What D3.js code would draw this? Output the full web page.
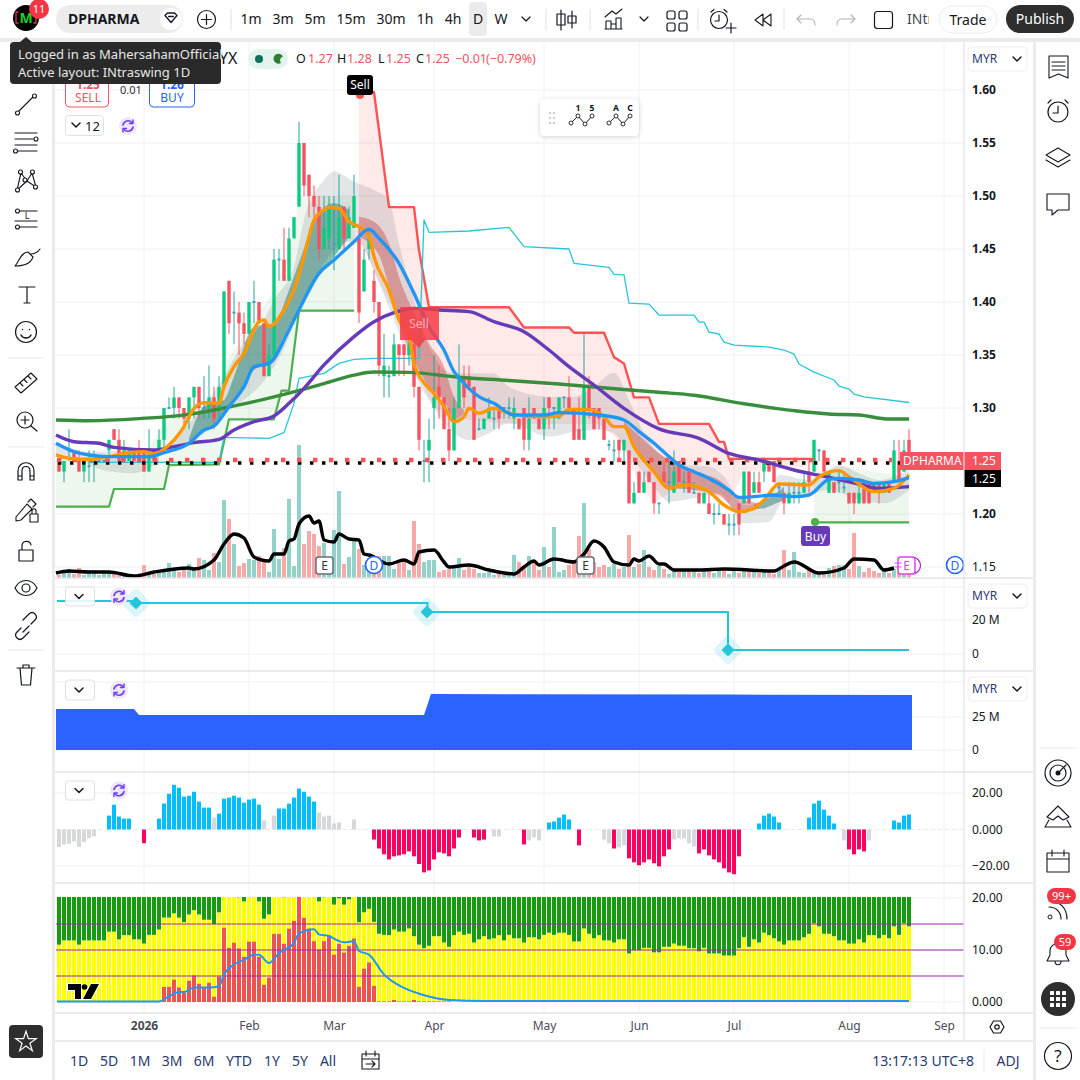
<!DOCTYPE html>
<html><head><meta charset="utf-8">
<script src="https://d3js.org/d3.v7.min.js"></script>
<style>html,body{margin:0;padding:0;background:#fff;overflow:hidden}svg{display:block}text{font-family:"Noto Sans",sans-serif}</style>
</head><body><svg id="c" width="1080" height="1080"></svg>
<script>
// ---------- DATA ----------
const priceTicks=[1.60,1.55,1.50,1.45,1.40,1.35,1.30,1.20,1.15];
const monthLabels=[[17,"2026"],[38,"Feb"],[55,"Mar"],[75,"Apr"],[97,"May"],[116,"Jun"],[135,"Jul"],[158,"Aug"],[177,"Sep"]];
const intervals=[["1m",251],["3m",283],["5m",315],["15m",351],["30m",391],["1h",425],["4h",453],["D",478],["W",501]];
const ranges=[["1D",79],["5D",109],["1M",140],["3M",172],["6M",204],["YTD",239],["1Y",272],["5Y",300],["All",328]];
const opens=[1.25,1.24,1.26,1.26,1.25,1.24,1.245,1.25,1.25,1.25,
1.26,1.28,1.27,1.25,1.25,1.26,1.26,1.26,1.24,1.26,
1.26,1.27,1.30,1.30,1.31,1.30,1.29,1.31,1.32,1.30,
1.30,1.31,1.30,1.32,1.42,1.39,1.39,1.38,1.37,1.40,
1.40,1.38,1.33,1.35,1.44,1.44,1.42,1.46,1.49,1.55,
1.52,1.50,1.49,1.45,1.46,1.455,1.45,1.49,1.46,1.47,
1.46,1.41,1.45,1.42,1.40,1.33,1.33,1.33,1.36,1.36,
1.35,1.36,1.32,1.25,1.26,1.30,1.32,1.31,1.28,1.26,
1.30,1.33,1.33,1.32,1.28,1.28,1.29,1.29,1.30,1.30,
1.30,1.29,1.29,1.30,1.27,1.30,1.29,1.28,1.31,1.30,
1.29,1.31,1.31,1.30,1.28,1.27,1.32,1.30,1.30,1.29,
1.265,1.26,1.27,1.26,1.26,1.21,1.24,1.22,1.24,1.23,
1.21,1.24,1.23,1.22,1.25,1.23,1.24,1.22,1.22,1.21,
1.21,1.20,1.20,1.20,1.19,1.19,1.21,1.21,1.24,1.22,
1.23,1.24,1.25,1.25,1.225,1.22,1.21,1.22,1.22,1.22,
1.24,1.24,1.26,1.26,1.22,1.23,1.23,1.225,1.22,1.22,
1.21,1.23,1.23,1.23,1.23,1.22,1.23,1.23,1.25,1.24,1.27];
const highs=[1.25,1.25,1.28,1.26,1.26,1.25,1.26,1.26,1.25,1.25,
1.27,1.28,1.28,1.27,1.26,1.26,1.27,1.26,1.28,1.26,
1.28,1.30,1.31,1.32,1.31,1.30,1.31,1.32,1.32,1.33,
1.34,1.32,1.33,1.41,1.42,1.41,1.40,1.39,1.40,1.42,
1.40,1.38,1.36,1.45,1.45,1.47,1.47,1.48,1.57,1.55,
1.52,1.51,1.50,1.50,1.50,1.50,1.52,1.49,1.49,1.52,
1.47,1.45,1.47,1.43,1.40,1.37,1.34,1.37,1.36,1.36,
1.37,1.37,1.32,1.27,1.29,1.35,1.34,1.31,1.30,1.31,
1.36,1.34,1.34,1.32,1.29,1.29,1.31,1.30,1.30,1.30,
1.31,1.31,1.29,1.30,1.31,1.30,1.29,1.31,1.31,1.30,
1.31,1.31,1.33,1.30,1.31,1.37,1.33,1.30,1.30,1.29,
1.27,1.27,1.27,1.27,1.26,1.23,1.24,1.24,1.24,1.23,
1.21,1.25,1.25,1.26,1.25,1.24,1.24,1.23,1.22,1.22,
1.22,1.21,1.21,1.20,1.20,1.20,1.21,1.24,1.24,1.24,
1.24,1.25,1.25,1.25,1.23,1.22,1.23,1.23,1.23,1.24,
1.25,1.27,1.26,1.26,1.24,1.23,1.24,1.24,1.22,1.22,
1.23,1.23,1.23,1.23,1.23,1.23,1.23,1.27,1.27,1.27,1.28];
const lows=[1.24,1.23,1.25,1.25,1.24,1.23,1.23,1.23,1.25,1.25,
1.25,1.27,1.25,1.25,1.25,1.25,1.25,1.24,1.24,1.25,
1.26,1.26,1.30,1.29,1.29,1.28,1.28,1.29,1.29,1.29,
1.29,1.28,1.29,1.32,1.37,1.36,1.35,1.36,1.37,1.38,
1.38,1.33,1.33,1.35,1.42,1.42,1.42,1.46,1.49,1.50,
1.48,1.48,1.44,1.45,1.45,1.43,1.45,1.45,1.46,1.47,
1.38,1.41,1.44,1.39,1.33,1.31,1.31,1.33,1.33,1.33,
1.34,1.31,1.26,1.23,1.23,1.28,1.29,1.28,1.25,1.26,
1.30,1.30,1.32,1.27,1.28,1.28,1.29,1.28,1.28,1.29,
1.29,1.28,1.28,1.26,1.26,1.29,1.28,1.27,1.28,1.28,
1.29,1.30,1.30,1.27,1.27,1.27,1.29,1.28,1.28,1.27,
1.26,1.25,1.25,1.25,1.21,1.21,1.22,1.22,1.23,1.20,
1.20,1.23,1.21,1.22,1.23,1.22,1.22,1.22,1.21,1.21,
1.20,1.19,1.20,1.19,1.18,1.18,1.18,1.21,1.21,1.22,
1.22,1.23,1.24,1.23,1.22,1.20,1.21,1.21,1.21,1.22,
1.22,1.24,1.25,1.24,1.22,1.22,1.22,1.22,1.21,1.20,
1.21,1.21,1.21,1.22,1.21,1.22,1.22,1.23,1.23,1.24,1.25];
const closes=[1.24,1.25,1.26,1.25,1.24,1.25,1.245,1.25,1.25,1.25,
1.27,1.27,1.25,1.26,1.26,1.25,1.25,1.24,1.26,1.25,
1.27,1.30,1.30,1.31,1.30,1.29,1.31,1.32,1.30,1.30,
1.31,1.29,1.32,1.41,1.38,1.39,1.38,1.37,1.40,1.40,
1.38,1.33,1.35,1.44,1.44,1.42,1.46,1.48,1.55,1.51,
1.50,1.49,1.45,1.47,1.49,1.455,1.48,1.46,1.48,1.50,
1.39,1.44,1.46,1.40,1.34,1.34,1.33,1.36,1.35,1.35,
1.36,1.32,1.27,1.25,1.27,1.31,1.31,1.28,1.26,1.30,
1.33,1.31,1.32,1.27,1.28,1.29,1.30,1.29,1.29,1.30,
1.30,1.30,1.28,1.27,1.29,1.29,1.28,1.30,1.30,1.30,
1.31,1.31,1.30,1.27,1.27,1.32,1.30,1.28,1.29,1.27,
1.265,1.26,1.26,1.27,1.21,1.22,1.22,1.23,1.23,1.21,
1.21,1.23,1.23,1.24,1.23,1.23,1.22,1.22,1.21,1.22,
1.20,1.20,1.20,1.19,1.19,1.19,1.19,1.24,1.21,1.23,
1.22,1.25,1.24,1.23,1.225,1.21,1.22,1.22,1.22,1.23,
1.23,1.27,1.26,1.24,1.24,1.22,1.23,1.225,1.21,1.21,
1.22,1.21,1.21,1.22,1.22,1.23,1.22,1.26,1.23,1.26,1.25];
const volumes=[3,6,9,4,10,3,8,8,3,6,6,4,3,4,4,3,3,13,4,4,6,8,15,9,6,9,14,9,20,18,8,25,16,78,59,34,12,15,19,18,22,19,6,49,19,30,79,12,133,34,47,44,32,35,19,48,87,14,21,38,29,13,16,10,22,22,22,9,15,16,8,57,34,16,18,18,6,8,9,11,20,8,13,9,5,5,6,3,4,3,4,23,16,11,22,18,8,31,11,51,6,8,13,18,42,75,29,16,11,13,11,14,9,11,43,11,14,28,11,8,12,9,4,8,6,8,9,7,5,6,7,5,8,7,4,8,5,7,6,7,5,6,5,4,8,28,8,26,6,5,8,5,4,6,10,12,13,13,9,45,12,6,10,7,5,8,5,9,5,4,5];
const volumeAvg=[[-0.6,5],[2,7],[6,6],[10,6],[15,2],[19,6],[26,10],[27,9],[31,18],[33,34],[35,44],[37,40],[39,21],[42,17],[43,24],[45,24],[46,37],[47,39],[48,54],[50,62],[51,55],[52,57],[53,38],[55,36],[56,44],[58,39],[60,38],[61,24],[62,23],[66,14],[69,18],[71,14],[72,26],[75,28],[77,16],[78,11],[82,13],[86,8],[91,4],[93,11],[95,17],[96,13],[99,19],[103,16],[105,24],[107,37],[109,31],[111,16],[114,13],[115,19],[116,17],[118,22],[120,14],[121,14],[123,8],[128,8],[133,9],[143,7],[145,12],[147,16],[152,5],[157,10],[159,19],[163,18],[165,8],[167,10]];
const longAvg=[[-0.6,1.2887],[6,1.288],[16,1.290],[26,1.294],[32,1.299],[39,1.306],[46,1.314],[53,1.323],[59,1.331],[63,1.334],[70,1.3336],[80,1.329],[90,1.326],[100,1.3226],[110,1.3186],[120,1.3148],[127,1.312],[137,1.304],[147,1.2975],[154,1.2943],[160,1.2934],[166,1.2896],[170,1.2896]];
const fastAvg=[[-0.6,1.2557],[2,1.2525],[6,1.2516],[10,1.2541],[13,1.2572],[17,1.2588],[19,1.2566],[22,1.2651],[25,1.2824],[27,1.2997],[29,1.305],[32,1.3044],[33,1.3201],[35,1.339],[37,1.3516],[40,1.3814],[41,1.383],[42,1.3767],[45,1.3925],[47,1.4113],[49,1.4428],[51,1.4774],[53,1.4868],[54,1.4893],[56,1.4884],[58,1.4758],[60,1.4711],[62,1.4623],[63,1.4428],[66,1.4113],[68,1.383],[70,1.3689],[71,1.3421],[74,1.3186],[75,1.3138],[77,1.3013],[79,1.2871],[81,1.2918],[82,1.2997],[84,1.295],[87,1.2997],[90,1.295],[96,1.2918],[100,1.2925],[102,1.2987],[106,1.2987],[109,1.2918],[111,1.2824],[113,1.2824],[115,1.2635],[119,1.2399],[122,1.2242],[125,1.2274],[128,1.2252],[130,1.2211],[133,1.2085],[136,1.2022],[139,1.2053],[141,1.2132],[144,1.2283],[150,1.2274],[152,1.2352],[156,1.2409],[158,1.2352],[163,1.2211],[167,1.2242],[170,1.2368]];
const midAvg=[[-0.6,1.2667],[3,1.2588],[6,1.2557],[10,1.2541],[18,1.2541],[21,1.2579],[26,1.2667],[29,1.2792],[31,1.283],[34,1.3013],[37,1.3201],[39,1.339],[42,1.3421],[46,1.3736],[48,1.3925],[52,1.427],[55,1.4396],[59,1.4569],[62,1.4686],[64,1.4601],[68,1.4365],[71,1.4082],[74,1.3767],[77,1.3547],[79,1.3343],[81,1.3233],[84,1.3107],[87,1.3044],[91,1.2934],[97,1.2934],[100,1.2956],[108,1.2934],[113,1.2887],[116,1.2777],[119,1.2667],[122,1.2541],[124,1.2462],[127,1.2399],[130,1.2336],[134,1.2226],[136,1.2157],[139,1.2164],[143,1.2179],[147,1.2164],[150,1.2179],[154,1.2327],[156,1.2336],[160,1.2321],[163,1.2289],[167,1.2305],[170,1.2343]];
const slowAvg=[[-0.6,1.2745],[3,1.2682],[8,1.2667],[11,1.2629],[19,1.2604],[23,1.2635],[27,1.2673],[32,1.2704],[35,1.2792],[39,1.2871],[43,1.2925],[46,1.3044],[49,1.3186],[53,1.3406],[59,1.3673],[63,1.3814],[67,1.3899],[71,1.394],[76,1.3925],[82,1.3909],[87,1.3814],[93,1.372],[98,1.3547],[102,1.339],[107,1.3217],[113,1.2997],[120,1.2803],[128,1.2714],[134,1.2572],[140,1.2509],[147,1.2415],[154,1.2346],[160,1.2283],[164,1.2242],[170,1.2258]];
const channelUpper=[[6,1.2487],[32,1.2487],[33,1.2723],[42,1.2714],[45,1.2767],[47,1.3044],[48,1.328],[53,1.3327],[56,1.3421],[59,1.3459],[63,1.3469],[71,1.3469],[72,1.3469],[73,1.4774],[74,1.4657],[82,1.467],[90,1.4704],[93,1.4522],[102,1.45],[103,1.4365],[110,1.4327],[111,1.4261],[113,1.4255],[114,1.399],[118,1.398],[120,1.3877],[127,1.3877],[128,1.3811],[129,1.3811],[130,1.3716],[132,1.3698],[133,1.3622],[135,1.3594],[142,1.3575],[145,1.3547],[147,1.3509],[148,1.3415],[151,1.3339],[155,1.3264],[156,1.3207],[158,1.3179],[159,1.3132],[161,1.3104],[170,1.3052]];
const buyStop=[[-0.6,1.2069],[10,1.2069],[11,1.2236],[21,1.2236],[22,1.2462],[32,1.2469],[34,1.2893],[43,1.2893],[44.5,1.3164],[46,1.3164],[48,1.3918],[59,1.3918]];
const buyStopTop=[[-0.6,1.252],[10,1.252],[17,1.255],[21,1.285],[26,1.30],[32,1.305],[33,1.34],[40,1.39],[43,1.41],[47,1.46],[48,1.50],[59,1.50]];
const buyStop2=[[151,1.1921],[170,1.1921]];
const buyStop2Top=[[151,1.262],[152,1.24],[156,1.245],[170,1.235]];
const sellStop=[[60,1.598],[63,1.598],[64,1.562],[66,1.4895],[71,1.4895],[72,1.449],[74,1.395],[90,1.395],[93,1.376],[102,1.376],[103,1.371],[109,1.371],[111,1.348],[113,1.342],[115,1.31],[118,1.31],[120,1.285],[130,1.285],[132,1.268],[133,1.268],[134,1.252],[150,1.252]];
const sellStopBottom=[[60,1.46],[63,1.43],[66,1.40],[70,1.37],[72,1.33],[75,1.30],[80,1.29],[90,1.285],[100,1.285],[108,1.285],[112,1.27],[116,1.23],[119,1.21],[122,1.22],[124,1.225],[130,1.22],[134,1.21],[137,1.24],[150,1.245]];
const cloudUpper=[[22,1.265],[33,1.3296],[36,1.3547],[41,1.383],[43,1.4019],[47,1.4333],[49,1.4774],[53,1.5151],[55,1.523],[59,1.5135],[63,1.5057],[66,1.4962],[68,1.4553],[71,1.4019],[74,1.3579],[79,1.3327],[87,1.3327],[90,1.3201],[98,1.3107],[103,1.3107],[107,1.3201],[111,1.3333],[114,1.3075],[117,1.2761],[120,1.2572],[125,1.2462],[130,1.2447],[133,1.2352],[137,1.2085],[142,1.2164],[144,1.2368],[150,1.2321],[153,1.2384],[156,1.2462],[160,1.2384],[164,1.2321],[170,1.2415]];
const cloudLower=[[22,1.2635],[29,1.2761],[33,1.295],[37,1.3075],[40,1.3201],[43,1.339],[46,1.3673],[48,1.3956],[51,1.4208],[55,1.449],[58,1.4569],[60,1.4553],[64,1.4176],[68,1.3704],[71,1.3327],[74,1.3075],[79,1.2761],[82,1.2698],[86,1.2761],[90,1.2855],[98,1.273],[103,1.2777],[108,1.2792],[111,1.2761],[113,1.2635],[117,1.2384],[120,1.2195],[122,1.2116],[127,1.2148],[132,1.2195],[137,1.1912],[142,1.1928],[145,1.2132],[150,1.2179],[154,1.2226],[160,1.2132],[165,1.2101],[170,1.2226]];
const earlyCloudUpper=[[-0.6,1.2667],[6,1.2588],[15,1.26],[20,1.2585]];
const earlyCloudLower=[[-0.6,1.2545],[6,1.2465],[10,1.24],[15,1.2385],[20,1.249]];
const riseBandUpper=[[26,1.2714],[29,1.3013],[33,1.3075],[35,1.3296],[39,1.3767],[43,1.3799],[46,1.4113],[49,1.4506],[51,1.4774],[55,1.4931],[58,1.4868]];
const riseBandLower=[[26,1.2667],[29,1.2792],[31,1.283],[34,1.3013],[37,1.3201],[39,1.3358],[42,1.3421],[46,1.3767],[48,1.3925],[52,1.427],[55,1.4428],[58,1.4616]];
const riseBand2Upper=[[139,1.2085],[143,1.2179],[145,1.2258]];
const riseBand2Lower=[[139,1.2053],[141,1.2053],[145,1.2132]];
const fallBandUpper=[[60,1.4805],[63,1.4758],[66,1.4553],[68,1.4239],[71,1.3893],[74,1.361],[77,1.339],[79,1.3107],[81,1.2981]];
const fallBandLower=[[60,1.4616],[64,1.4443],[66,1.4145],[68,1.3799],[71,1.3453],[74,1.3201],[77,1.3075],[79,1.2887],[81,1.295]];
const fallBand2Upper=[[113,1.2871],[117,1.2698],[120,1.2572],[124,1.2462],[127,1.2399],[132,1.2321],[136,1.2157],[140,1.2101]];
const fallBand2Lower=[[113,1.2824],[115,1.2635],[119,1.2399],[122,1.2242],[127,1.2226],[132,1.2179],[136,1.2022],[140,1.2053]];
const dotLevelBlack=1.2481, dotLevelRed=1.2509;
const lastClose=1.25;
const pane2Line=[[-0.4,31.2],[15,31.2],[15.4,30],[73.7,30],[73.7,24.7],[133.8,24.7],[133.8,2.4],[170,2.4]];
const pane2Diamonds=[[15.4,30],[73.6,24.7],[133.8,2.4]];
const pane2Ticks=[20,0];
const pane3Area=[[-0.6,31],[15,31],[16,26.5],[73,26.5],[74.4,42.4],[134,42],[170.6,41.7]];
const pane3Ticks=[25,0];
const histTicks=[20,0,-20];
const histogram=[-9.6,-8.2,-7.8,-6.5,-9.6,-6.9,-4.7,-3.8,0,0,
7.6,13.6,7.1,6,6,0,0,-7.5,0,0,
6,14.2,19.6,24.5,22.9,18,18.5,20.7,15.3,12,
12,6.5,8.7,16.9,17.5,18.5,17.5,14.7,16.4,16.9,
13.6,5,0,7.6,11.5,11.5,14.2,17.5,22.4,20.7,
18,15.3,9.3,7.1,7.6,3.3,3.8,0,0,5.5,
0,0,0,-5.5,-10.4,-13.6,-16.4,-14.7,-14.2,-13.6,
-12,-14.7,-18.9,-23.5,-22.4,-16.4,-12.5,-13.1,-14.7,-10.4,
-4.4,0,0,-4.4,-6,-5.5,0,-3.8,-3.8,0,
0,0,0,-8.2,-6,-4.4,-6,0,3.8,4.4,
6.5,8.2,5.5,0,-8.7,0,0,0,0,-5.5,
-7.6,-10.4,-9.8,-8.7,-15.8,-18,-19.6,-18,-16.4,-18.5,
-20.2,-14.7,-10.9,-5.5,-4.9,-4.9,-7.6,-9.3,-13.1,-10.9,
-14.2,-16.4,-18,-21.3,-23.5,-24.5,-14.7,0,0,0,
3.3,7.6,8.7,7.1,3.8,0,0,0,0,0,
6.5,14.2,15.8,10.9,7.6,3.3,0,-6,-10.9,-13.6,
-10.9,-12,-6,0,0,0,0,4.9,3.8,7.6,8.2];
const histGrayBars=[0,1,2,3,4,5,6,7,31,41,43,52,53,54,55,56,59,87,88,94,95,96,109,110,112,113,123,124,125,126,127,157,162];
const stackYellow=[11.0,11.8,11.8,11.8,11.0,11.8,11.8,11.8,11.8,11.8,
13.5,13.5,12.0,12.8,12.8,12.0,12.0,11.2,12.9,12.9,
13.9,16.2,16.2,17.0,16.2,15.3,16.8,17.6,16.8,15.8,
15.8,14.9,17.2,20.2,20.2,20.2,20.1,19.3,20.2,20.2,
19.3,16.0,16.8,20.2,20.2,20.1,20.2,20.2,20.2,20.2,
20.2,20.2,19.3,20.1,20.2,18.7,19.9,18.7,19.7,20.2,
15.3,17.2,17.9,15.4,13.1,12.9,12.8,13.9,13.5,13.5,
14.1,12.6,11.0,10.3,10.8,12.6,12.6,11.4,10.6,12.8,
13.5,12.9,13.1,11.4,12.0,12.6,12.0,12.2,12.8,11.8,
12.9,12.2,12.2,11.4,12.4,12.4,12.0,12.9,13.3,12.9,
13.3,13.3,12.9,11.6,11.6,14.1,13.1,12.2,12.8,11.8,
11.8,11.4,12.0,12.0,9.3,9.9,9.9,10.4,10.4,9.5,
9.5,10.6,10.6,11.2,10.8,10.8,10.3,10.3,9.7,10.4,
9.3,9.3,9.3,8.9,8.9,8.9,10.3,12.4,10.6,12.0,
11.4,13.3,12.8,12.2,11.6,11.0,11.8,11.8,11.8,12.4,
13.1,15.1,14.5,13.1,13.1,12.6,11.8,11.8,11.2,11.2,
12.0,11.4,12.8,12.8,12.2,12.9,12.2,14.5,12.9,15.1,14.5];
const stackRed=[0,0,0,0,0,0,0,0,0,0,0,0,0,0,0,0,0,0,0,0,0,
2.9,2.9,4.3,2.8,1.8,4.1,5.1,3.5,2.8,3.7,1.0,4.9,14.3,10.4,11.4,10.3,8.7,11.6,11.6,8.7,3.3,4.7,13.1,13.1,11.2,14.1,15.6,20.2,16.2,14.1,11.7,10.1,11.7,12.8,9.1,11.2,9.5,10.8,12.2,2.9,6.4,7.6,3.1,
0.1,0.1,0.1,0.4,0.1,0.1,0.1,0.4,0.1,0.1,0.1,0.1,0.1,0.1,0.1];
const stackBlue=[[-0.4,0.1],[20,0.1],[22,1.1],[24,1.9],[25,1.9],[27,2.8],[30,2.8],[32,3.0],[33,5.3],[35,7.2],[37,8.1],[39,9.1],[40,9.1],[42,7.5],[44,9.4],[45,10.0],[47,11.4],[48,13.2],[51,14.0],[52,13.0],[54,12.7],[55,12.2],[57,11.5],[59,11.7],[60,9.8],[62,9.1],[65,5.3],[69,2.7],[73,1.3],[78,0.4],[85,0.2],[170,0.2]];
const stackLevels=[15,10,5];
const stackTicks=[20,10,0];
const stackTop=20.2;

// ---------- SCALES ----------
const svg=d3.select("#c");
const x=d3.scaleLinear().domain([0,170]).range([59,909]);
const y=d3.scaleLinear().domain([1.15,1.60]).range([567,90]);
const yV=d3.scaleLinear().domain([0,134]).range([578,444]);
const y2=d3.scaleLinear().domain([0,20]).range([654,620]);
const y3=d3.scaleLinear().domain([0,25]).range([750,717]);
const y4=d3.scaleLinear().domain([-20,20]).range([866,793]);
const y5=d3.scaleLinear().domain([0,20]).range([1002,898]);
const RED="#f7525f",TEAL="#26a69a",INK="#131722";
const lineOf=(s,c)=>d3.line().x(d=>x(d[0])).y(d=>s(d[1])).curve(c||d3.curveLinear);
const areaOf=(top,bot,s,c)=>{const l=lineOf(s,c);return l(top)+"L"+l(bot.slice().reverse()).slice(1)+"Z";};
const g=svg.append("g");
const rect=(p,a,b,w,h,fill,rx,st)=>{const r=p.append("rect").attr("x",a).attr("y",b).attr("width",w).attr("height",h).attr("fill",fill);if(rx)r.attr("rx",rx);if(st)r.attr("stroke",st);return r;};
const txt=(p,a,b,s,size,fill,anchor,weight)=>p.append("text").attr("x",a).attr("y",b).attr("font-size",size).attr("fill",fill||INK).attr("text-anchor",anchor||"start").attr("font-weight",weight||400).text(s);
const ic=(p,d,w,c,f)=>p.append("path").attr("d",d).attr("fill",f||"none").attr("stroke",c||INK).attr("stroke-width",w||1.2).attr("stroke-linejoin","round").attr("stroke-linecap","round");

// ---------- BACKGROUND ----------
rect(g,0,0,1080,1080,"#fff");
const gridCol="#eff0f3";
const panes=[[42,578],[579,671],[672,772],[773,883],[884,1013]];
panes.forEach(p=>monthLabels.forEach(m=>g.append("line").attr("x1",x(m[0])).attr("x2",x(m[0])).attr("y1",p[0]).attr("y2",p[1]).attr("stroke",gridCol)));
const hGrid=[587,682];
[1.6,1.55,1.5,1.45,1.4,1.35,1.3,1.25,1.2,1.15].forEach(v=>hGrid.push(y(v)));
pane2Ticks.forEach(v=>hGrid.push(y2(v)));
pane3Ticks.forEach(v=>hGrid.push(y3(v)));
[20,-20].forEach(v=>hGrid.push(y4(v)));
stackTicks.forEach(v=>hGrid.push(y5(v)));
hGrid.forEach(v=>g.append("line").attr("x1",55).attr("x2",964).attr("y1",v).attr("y2",v).attr("stroke",gridCol));
g.append("line").attr("x1",56).attr("x2",964).attr("y1",y4(0)).attr("y2",y4(0)).attr("stroke","#e6e8ee").attr("stroke-dasharray","4 3");

// ---------- MAIN PANE ----------
const m=g.append("g");
const fill=(t,b,c,curve)=>m.append("path").attr("d",areaOf(t,b,y,curve)).attr("fill",c);
fill(earlyCloudUpper,earlyCloudLower,"rgba(120,123,134,.2)",d3.curveMonotoneX);
fill(buyStopTop,buyStop,"rgba(76,175,80,.1)");
fill(buyStop2Top,buyStop2,"rgba(76,175,80,.1)");
fill(sellStop,sellStopBottom,"rgba(255,82,82,.13)");
fill(cloudUpper,cloudLower,"rgba(120,123,134,.2)",d3.curveMonotoneX);
fill(riseBandUpper,riseBandLower,"rgba(0,105,92,.42)",d3.curveMonotoneX);
fill(riseBand2Upper,riseBand2Lower,"rgba(0,105,92,.42)");
fill(fallBandUpper,fallBandLower,"rgba(183,28,28,.32)",d3.curveMonotoneX);
fill(fallBand2Upper,fallBand2Lower,"rgba(183,28,28,.32)",d3.curveMonotoneX);

m.append("g").selectAll("rect").data(volumes).join("rect")
 .attr("x",(d,i)=>x(i)-2).attr("width",4).attr("y",d=>yV(d)).attr("height",d=>578-yV(d))
 .attr("fill",(d,i)=>closes[i]>=opens[i]?"#93d2c9":"#f9a8a8");
m.append("path").attr("d",lineOf(yV,d3.curveMonotoneX)(volumeAvg)).attr("fill","none").attr("stroke","#000").attr("stroke-width",3.4);

const stroke=(d,s,c,w,curve)=>m.append("path").attr("d",lineOf(s,curve)(d)).attr("fill","none").attr("stroke",c).attr("stroke-width",w).attr("stroke-linejoin","round");
stroke(buyStop,y,"#4caf50",2.2);
stroke(buyStop2,y,"#4caf50",2.2);
stroke(sellStop,y,"#ff5252",2.4);
stroke(channelUpper,y,"#26c6da",1.3);

const cg=m.append("g");
opens.forEach((o,i)=>{
  const c=closes[i],up=c>=o,dj=o===c,X=x(i);
  cg.append("line").attr("x1",X).attr("x2",X).attr("y1",y(highs[i])).attr("y2",y(lows[i])).attr("stroke",up?TEAL:RED).attr("stroke-width",1);
  if(dj){rect(cg,X-1.5,y(o)-1,3,2,"#3aa0c0");}
  else{rect(cg,X-1.7,y(Math.max(o,c)),3.4,Math.abs(y(o)-y(c)),up?"#0ccb80":RED);}
});

m.append("line").attr("x1",58).attr("x2",900).attr("y1",y(dotLevelBlack)).attr("y2",y(dotLevelBlack)).attr("stroke","#000").attr("stroke-width",3.4).attr("stroke-dasharray","3.4 8.6");
m.append("line").attr("x1",57).attr("x2",892).attr("y1",y(dotLevelRed)).attr("y2",y(dotLevelRed)).attr("stroke","#ff5252").attr("stroke-width",4.4).attr("stroke-dasharray","4.4 11.6");

stroke(longAvg,y,"#388e3c",3.4,d3.curveMonotoneX);
stroke(slowAvg,y,"#673ab7",3.4,d3.curveMonotoneX);
stroke(fastAvg,y,"#ff9800",3.4,d3.curveMonotoneX);
stroke(midAvg,y,"#2196f3",3.4,d3.curveMonotoneX);

const sl=m.append("g");
sl.append("circle").attr("cx",360).attr("cy",95).attr("r",4).attr("fill","#ff5252");
rect(sl,347,75,26,20,"#000",3);
txt(sl,360,89,"Sell",12,"#fff","middle");
sl.append("path").attr("d","M400,307H439V340H425L419,348L411,340H400Z").attr("fill","rgba(247,60,70,.85)");
txt(sl,419,328,"Sell",12,"rgba(255,255,255,.55)","middle");
sl.append("circle").attr("cx",815).attr("cy",522).attr("r",4).attr("fill","#4caf50");
rect(sl,801,526,29,20,"#673ab7",3);
txt(sl,815.5,541,"Buy",12,"#fff","middle");

function evE(cx,col,tc){rect(m,cx-8,557,17,17,"#fff",2.5,col).attr("stroke-width",1.5);txt(m,cx+.5,570,"E",12,tc,"middle");}
function evD(cx){m.append("circle").attr("cx",cx).attr("cy",565).attr("r",8.5).attr("fill","#fff").attr("stroke","#2962ff").attr("stroke-width",1.7);txt(m,cx,570,"D",12,"#2962ff","middle");}
evD(374);evE(324,"#6a6d78","#333");evE(585,"#6a6d78","#333");evD(955);
ic(m,"M912,557A8.5,8.5 0 0 1 912,574",1.2,"#9c27b0");
evE(906,"#e040fb","#e040fb");
ic(m,"M895,563h6M895,567h6",1,"#e040fb");

// ---------- PANE 2 ----------
const p2=g.append("g");
pane2Diamonds.forEach(d=>{const X=x(d[0]),Y=y2(d[1]);
 rect(p2,X-11,Y-11,22,22,"rgba(38,198,218,.16)",4).attr("transform",`rotate(45 ${X} ${Y})`);});
p2.append("path").attr("d",lineOf(y2)(pane2Line)).attr("fill","none").attr("stroke","#26c6da").attr("stroke-width",2);
pane2Diamonds.forEach(d=>{const X=x(d[0]),Y=y2(d[1]);
 rect(p2,X-4.6,Y-4.6,9.2,9.2,"#26c6da",1).attr("transform",`rotate(45 ${X} ${Y})`);});

// ---------- PANE 3 ----------
g.append("path").attr("d",d3.area().x(d=>x(d[0])).y0(y3(0)).y1(d=>y3(d[1]))(pane3Area)).attr("fill","#2a63ff");

// ---------- PANE 4 ----------
g.append("g").selectAll("rect").data(histogram).join("rect")
 .attr("x",(d,i)=>x(i)-2).attr("width",4)
 .attr("y",d=>Math.min(y4(0),y4(d))).attr("height",d=>Math.abs(y4(d)-y4(0)))
 .attr("fill",(d,i)=>histGrayBars.includes(i)?"#d7d8dc":d>0?"#00bfff":"#ff0060");

// ---------- PANE 5 ----------
const p5=g.append("g");
stackYellow.forEach((v,i)=>{
  rect(p5,x(i)-2,y5(stackTop),4,y5(v)-y5(stackTop),"#169c0f");
  rect(p5,x(i)-2,y5(v),4,y5(0)-y5(v),"#ffff00");
  const r=stackRed[i]||0; if(r>0) rect(p5,x(i)-2,y5(r),4,y5(0)-y5(r),"#f0524f");
});
stackLevels.forEach(v=>p5.append("line").attr("x1",56).attr("x2",964).attr("y1",y5(v)).attr("y2",y5(v)).attr("stroke","#9c27b0").attr("stroke-width",1.1));
p5.append("path").attr("d",lineOf(y5,d3.curveMonotoneX)(stackBlue)).attr("fill","none").attr("stroke","#2196f3").attr("stroke-width",2);
const tv=p5.append("g");
tv.append("path").attr("d","M68,984H81V999H75V990H68Z M83,999L91,984H99L91,999Z").attr("fill","#000").attr("stroke","#fff").attr("stroke-width",2).attr("paint-order","stroke");
tv.append("circle").attr("cx",84.5).attr("cy",987).attr("r",2.8).attr("fill","#000");

// ---------- AXES ----------
const ax=(s,vals,fmt,o)=>{const a=g.append("g").attr("transform","translate(964,0)").call(d3.axisRight(s).tickValues(vals).tickSize(0).tickPadding(8).tickFormat(fmt));
 a.select(".domain").remove();a.selectAll("text").attr("font-size",12).attr("fill",INK).attr("font-family",'"Noto Sans",sans-serif');return a;};
const am=ax(y,priceTicks,d=>d.toFixed(2));
am.selectAll("text").attr("font-weight",d=>d===1.15?400:700);
ax(y2,pane2Ticks,d=>d?d+" M":"0");
ax(y3,pane3Ticks,d=>d?d+" M":"0");
ax(y4,histTicks,d=>d===0?"0.000":d<0?"\u2212"+(-d).toFixed(2):d.toFixed(2));
ax(y5,stackTicks,d=>d===0?"0.000":d.toFixed(2));
const ax2=g.append("g").attr("transform","translate(0,1013)").call(d3.axisBottom(x).tickValues(monthLabels.map(d=>d[0])).tickSize(0).tickPadding(8).tickFormat(d=>monthLabels.find(e=>e[0]===d)[1]));
ax2.select(".domain").remove();
ax2.selectAll("text").attr("font-size",12).attr("fill","#4a4d57").attr("font-family",'"Noto Sans",sans-serif').attr("font-weight",d=>d===17?700:400);

// price tags
rect(g,900,452,64,18,"#f7525f");txt(g,903,465,"DPHARMA",12,"#fff");
rect(g,964,452,37,18,"#f7525f");txt(g,972,465,lastClose.toFixed(2),12,"#fff");
rect(g,964,470,37,17,"#000");txt(g,972,483,lastClose.toFixed(2),12,"#fff");

// ---------- FRAME ----------
[[0,38,1080,4],[52,42,3,1038],[1033,42,3,1038]].forEach(r=>rect(g,r[0],r[1],r[2],r[3],"#ebebeb"));
[578,671,772,883,1013,1041].forEach(v=>g.append("line").attr("x1",55).attr("x2",1033).attr("y1",v).attr("y2",v).attr("stroke","#e2e3e9").attr("stroke-width",1.4));
g.append("line").attr("x1",964).attr("x2",964).attr("y1",42).attr("y2",1041).attr("stroke","#e2e3e9").attr("stroke-width",1.2);

// selectors on panes
const U=g.append("g");
function chev(a,b,c){ic(U,`M${a-4},${b-2}L${a},${b+2}L${a+4},${b-2}`,1.5,c||INK);}
function sync(a,b){U.append("circle").attr("cx",a).attr("cy",b).attr("r",9).attr("fill","#ede7f6");
 ic(U,`M${a-5},${b-1}A5.2,5.2 0 0 1 ${a+4},${b-3.5}M${a+5},${b+1}A5.2,5.2 0 0 1 ${a-4},${b+3.5}`,1.6,"#6d3df5");
 ic(U,`M${a+5},${b-6}V${b-2.5}H${a+1.5}M${a-5},${b+6}V${b+2.5}H${a-1.5}`,1.4,"#6d3df5");}
function paneBox(b0,b1,label){rect(U,65.5,b0,29,b1-b0,"rgba(255,255,255,.85)",3,"#dfe0e4");chev(79,(b0+b1)/2);sync(119,(b0+b1)/2+(label?0:0));}
paneBox(587,606);paneBox(680,700);paneBox(781,800);
function myr(b){rect(U,968,b,59,24,"#fff",4,"#eeeef0");txt(U,972,b+16,"MYR",12,"#283a6e");chev(1017,b+12,"#131722");}
myr(47);myr(584);myr(677);

// sell/buy widget
rect(U,65.5,72,43,35,"#fff",4,"#f7525f");txt(U,88,89,"1.25",12,"#f7525f","middle",700);txt(U,88,102,"SELL",12,"#f7525f","middle");
txt(U,131,94,"0.01",11,"#333","middle");
rect(U,149.5,72,45,35,"#fff",4,"#2962ff");txt(U,172,89,"1.26",12,"#2962ff","middle",700);txt(U,172,102,"BUY",12,"#2962ff","middle");
rect(U,65.5,115.5,38,20,"#fff",3,"#dfe0e4");chev(76,125);txt(U,85,131,"12",13,INK);
sync(128,126);

// legend
txt(U,219,64,"YX",16,INK);
rect(U,248,49,40,20,"#e3f4ee",10);
U.append("circle").attr("cx",259).attr("cy",59).attr("r",4).attr("fill","#0b6e5e");
U.append("path").attr("d","M283,56.5A5,5 0 1 0 281,63A4,4 0 0 1 283,56.5Z").attr("fill","#2e7d32");
[["O",296,INK],["1.27",308,RED],["H",337,INK],["1.28",347,RED],["L",378,INK],["1.25",386,RED],["C",416,INK],["1.25",425,RED],["\u22120.01",455,RED],["(\u22120.79%)",486,RED]].forEach(d=>txt(U,d[1],63,d[0],12.5,d[2]));

// wave toolbar
const shadow=svg.append("defs").append("filter").attr("id","sh").attr("x","-20%").attr("y","-20%").attr("width","140%").attr("height","150%");
shadow.append("feDropShadow").attr("dx",0).attr("dy",1).attr("stdDeviation",2.5).attr("flood-color","#000").attr("flood-opacity",.18);
rect(U,540,99,99,37,"#fff",5).attr("filter","url(#sh)");
[112,117,122].forEach(b=>[549,553].forEach(a=>rect(U,a,b,2,2,"#c8cad0")));
function wave(a,l1,l2){const P=[[a,123],[a+7,116],[a+14,124],[a+21,116]];
 ic(U,`M${P.map(p=>p.join(",")).join("L")}`,1,"#131722");
 P.forEach(p=>U.append("circle").attr("cx",p[0]).attr("cy",p[1]).attr("r",2).attr("fill","#fff").attr("stroke","#131722").attr("stroke-width",.9));
 txt(U,a+7,111,l1,8.5,INK,"middle",700);txt(U,a+21,111,l2,8.5,INK,"middle",700);}
wave(571,"1","5");wave(609,"A","C");

// ---------- TOP BAR ----------
const T=svg.append("g");
T.append("circle").attr("cx",26).attr("cy",18).attr("r",13).attr("fill","#000");
txt(T,26,23,"M",14,"#1fd11f","middle",700);
ic(T,"M18,12h-2v11h2M34,12h2v11h-2",1.3,"#e53935");
T.append("circle").attr("cx",39).attr("cy",9).attr("r",10).attr("fill","#f23645");
txt(T,39,13,"11",11,"#fff","middle");
rect(T,56,5,127,28,"#ececec",14);
txt(T,68,24,"DPHARMA",14,INK,"start",700);
T.append("circle").attr("cx",171).attr("cy",19).attr("r",11).attr("fill","#fff");
ic(T,"M165,15.5L167.5,13H174.5L177,15.5L171,22.5ZM168.5,16.5H173.5",1.3);
T.append("circle").attr("cx",206.5).attr("cy",19.5).attr("r",9).attr("fill","none").attr("stroke",INK).attr("stroke-width",1.2);
ic(T,"M201.5,19.5H211.5M206.5,14.5V24.5",1.2);
rect(T,469,2,18,34,"#ebebeb",4);
intervals.forEach(d=>txt(T,d[1],24,d[0],14,INK,"middle"));
[[526,18]].forEach(()=>ic(T,"M522,17L526,21L530,17",1.2));
[231,546,590,698,784].forEach(a=>T.append("line").attr("x1",a).attr("x2",a).attr("y1",9).attr("y2",30).attr("stroke","#e0e0e2"));
ic(T,"M561,10V30M561,14H557V25H565V14H561M572,11V28M568,16H576V23H568Z",1.2);
ic(T,"M605,17L612,11L616,14L622,9M605,29H622M606,29V21H611V29M611,29V24H616V29M616,29V18H621V29",1.1);
ic(T,"M640,17L644,21L648,17",1.2);
[[667,11],[679,11],[667,23],[679,23]].forEach(d=>rect(T,d[0],d[1],8,8,"none",2,INK).attr("stroke-width",1.2));
T.append("circle").attr("cx",719).attr("cy",20).attr("r",8.5).attr("fill","none").attr("stroke",INK).attr("stroke-width",1.2);
ic(T,"M719,15V21H715M711,12L714,9.5M727,12L724,9.5M726,28H736M731,23V33",1.2);
ic(T,"M763,14L755,20L763,26ZM771,14L763,20L771,26Z",1.1);
ic(T,"M801,15L797,19L801,23M797,19H810C814,19 815,22 815,25",1.1,"#b0b3ba");
ic(T,"M851,15L855,19L851,23M855,19H842C838,19 837,22 837,25",1.1,"#b0b3ba");
rect(T,874.5,11.5,18,17,"none",3,INK).attr("stroke-width",1.2);
txt(T,907,24,"INtr",14,"#434651");
rect(T,929,4,10,30,"#fff");
rect(T,939,6,58,27,"#fff",13.5,"#ececec");txt(T,968,25,"Trade",14,INK,"middle");
rect(T,1006,5,68,28,"#2e2e2e",14);txt(T,1040,24,"Publish",14,"#fff","middle");

// ---------- LEFT TOOLBAR ----------
const L=svg.append("g");
const dot=(a,b,r)=>L.append("circle").attr("cx",a).attr("cy",b).attr("r",r||2).attr("fill","#fff").attr("stroke",INK).attr("stroke-width",1.1);
ic(L,"M18,112L34,96",1.1);dot(17.5,113);dot(34.5,96);
ic(L,"M15,133H37M15,139H33M15,145H37M18,151H37",1.2);dot(36,139);dot(15.5,151);
ic(L,"M17,190L21,173L27,181L32,173L36,187L27,181L17,190",1.1);[[17.5,190],[20.5,172],[25,180],[32.5,172],[35.5,187]].forEach(d=>dot(d[0],d[1]));
ic(L,"M20,211H37M15,221.5M20,227H37M15,221H37",1.2);dot(17.5,211);dot(17.5,227);
txt(L,27,219,"L",9,INK,"middle");
ic(L,"M15,266C19,262 21,252 28,252L33,257C31,263 25,266 15,266ZM30,254C34,254 38,252 40,249",1.1);
ic(L,"M19,287H35M27,287V303M24,303H30",1.2);
L.append("circle").attr("cx",26).attr("cy",332).attr("r",10.5).attr("fill","none").attr("stroke",INK).attr("stroke-width",1.2);
ic(L,"M21,335C23,339 29,339 31,335M22.5,329.5v.1M29.5,329.5v.1",1.4);
L.append("line").attr("x1",8).attr("x2",44).attr("y1",358).attr("y2",358).attr("stroke","#e8e8ea");
ic(L,"M15,387L31,373L37,379L21,393ZM20,383L23,386M24,379.5L27,382.5M28,376L31,379",1.1);
L.append("circle").attr("cx",25).attr("cy",420).attr("r",8).attr("fill","none").attr("stroke",INK).attr("stroke-width",1.2);
ic(L,"M31,426L37,431M21,420H29M25,416V424",1.2);
L.append("line").attr("x1",8).attr("x2",44).attr("y1",447).attr("y2",447).attr("stroke","#e8e8ea");
ic(L,"M18,480V471C18,460 34,460 34,471V480H30V471C30,465 22,465 22,471V480ZM18,476H22M30,476H34",1.2);
ic(L,"M16,517L27,504L32,509L21,520L16,521ZM28,502L31,499L36,504L33,507M30,514H38V522H30ZM32,514V511C32,508 36,508 36,511V514",1.1);
ic(L,"M19,550H33V561H19ZM22,550V546C22,540 30,540 31,545",1.2);
ic(L,"M15,588C20,578 32,578 37,588C32,598 20,598 15,588Z",1.2);L.append("circle").attr("cx",26).attr("cy",588).attr("r",4).attr("fill","none").attr("stroke",INK).attr("stroke-width",1.2);
ic(L,"M23,620L29,614C33,610 39,616 35,620L31,624M29,632L23,638C19,642 13,636 17,632L21,628M23,632L29,626",1.2);
L.append("line").attr("x1",8).attr("x2",44).attr("y1",650).attr("y2",650).attr("stroke","#e8e8ea");
ic(L,"M17,668H35M20,668L21.5,685H30.5L32,668M23,668V665H29V668",1.2);
rect(L,9,1025,34,33,"#2e2e2e",4);
L.append("path").attr("d",d3.symbol().type(d3.symbolStar).size(130)()).attr("transform","translate(26,1042)").attr("fill","none").attr("stroke","#fff").attr("stroke-width",1.2);

// ---------- RIGHT TOOLBAR ----------
const R=svg.append("g");
ic(R,"M1049,56H1068V78L1058.5,74L1049,78ZM1052,62H1065M1052,66H1065M1052,70H1065",1.1);
R.append("circle").attr("cx",1058).attr("cy",112).attr("r",10).attr("fill","none").attr("stroke",INK).attr("stroke-width",1.2);
ic(R,"M1058,106V113H1053M1048,103L1051,100M1068,103L1065,100",1.2);
ic(R,"M1058,148L1070,155L1058,162L1046,155ZM1046,160L1058,167L1070,160",1.1);
ic(R,"M1047,194H1069V210H1058L1052,215V210H1047Z",1.1);
R.append("line").attr("x1",1040).attr("x2",1076).attr("y1",748).attr("y2",748).attr("stroke","#e8e8ea");
R.append("circle").attr("cx",1058).attr("cy",773).attr("r",13).attr("fill","none").attr("stroke",INK).attr("stroke-width",1.2);
R.append("circle").attr("cx",1058).attr("cy",773).attr("r",8).attr("fill","none").attr("stroke",INK).attr("stroke-width",1.2);
R.append("circle").attr("cx",1058).attr("cy",773).attr("r",2.5).attr("fill",INK);
ic(R,"M1058,773L1066,765",1.2);
ic(R,"M1058,806L1069,817L1063,820L1058,816L1053,820L1047,817ZM1049,820L1045,827H1071L1067,820",1.1);
ic(R,"M1047,853H1069V872H1047ZM1047,859H1069M1052,850V856M1064,850V856",1.1);
ic(R,"M1049,907C1056,907 1061,912 1061,919M1049,901C1060,901 1067,908 1067,919",1.2);
R.append("circle").attr("cx",1050).attr("cy",917).attr("r",2).attr("fill","none").attr("stroke",INK);
rect(R,1047,888,29,16,"#f23645",8);txt(R,1061.5,900,"99+",11,"#fff","middle");
ic(R,"M1047,961H1069L1066,955V951C1066,941 1050,941 1050,951V955ZM1055,961C1055,966 1061,966 1061,961",1.1);
rect(R,1054,934,22,16,"#f23645",8);txt(R,1065,946,"59",11,"#fff","middle");
R.append("circle").attr("cx",1058).attr("cy",999).attr("r",17).attr("fill","#2e2e2e");
[-6,0,6].forEach(a=>[-6,0,6].forEach(b=>rect(R,1058+a-2,999+b-2,4,4,"#fff",.6)));
R.append("line").attr("x1",1040).attr("x2",1076).attr("y1",1028).attr("y2",1028).attr("stroke","#e8e8ea");
R.append("circle").attr("cx",1058).attr("cy",1056).attr("r",13.5).attr("fill","none").attr("stroke",INK).attr("stroke-width",1.2);
txt(R,1058,1062,"?",17,INK,"middle");

// ---------- BOTTOM BAR ----------
const B=svg.append("g");
ranges.forEach(d=>txt(B,d[1],1066,d[0],14,"#283a6e","middle"));
ic(B,"M362,1054H379V1069H362ZM362,1059H379M366,1051V1056M375,1051V1056M366,1064H375M372,1061L375,1064L372,1067",1.1);
txt(B,974,1066,"13:17:13 UTC+8",14,"#283a6e","end");
B.append("line").attr("x1",984).attr("x2",984).attr("y1",1050).attr("y2",1072).attr("stroke","#e8e8ea");
txt(B,1008,1066,"ADJ",14,"#283a6e","middle");
ic(B,"M990,1027L993.5,1021H1000.5L1004,1027L1000.5,1033H993.5Z",1.2);
B.append("circle").attr("cx",997).attr("cy",1027).attr("r",2.2).attr("fill","none").attr("stroke",INK).attr("stroke-width",1.2);

// ---------- TOOLTIP ----------
const H=svg.append("g");
H.append("path").attr("d","M20,42L26,37L32,42Z").attr("fill","#2a2a2a");
rect(H,10,42,211,42,"#2a2a2a",4);
txt(H,18,59,"Logged in as MahersahamOfficial",13,"#e6e6e6");
txt(H,18,77,"Active layout: INtraswing 1D",13,"#e6e6e6");
</script></body></html>
